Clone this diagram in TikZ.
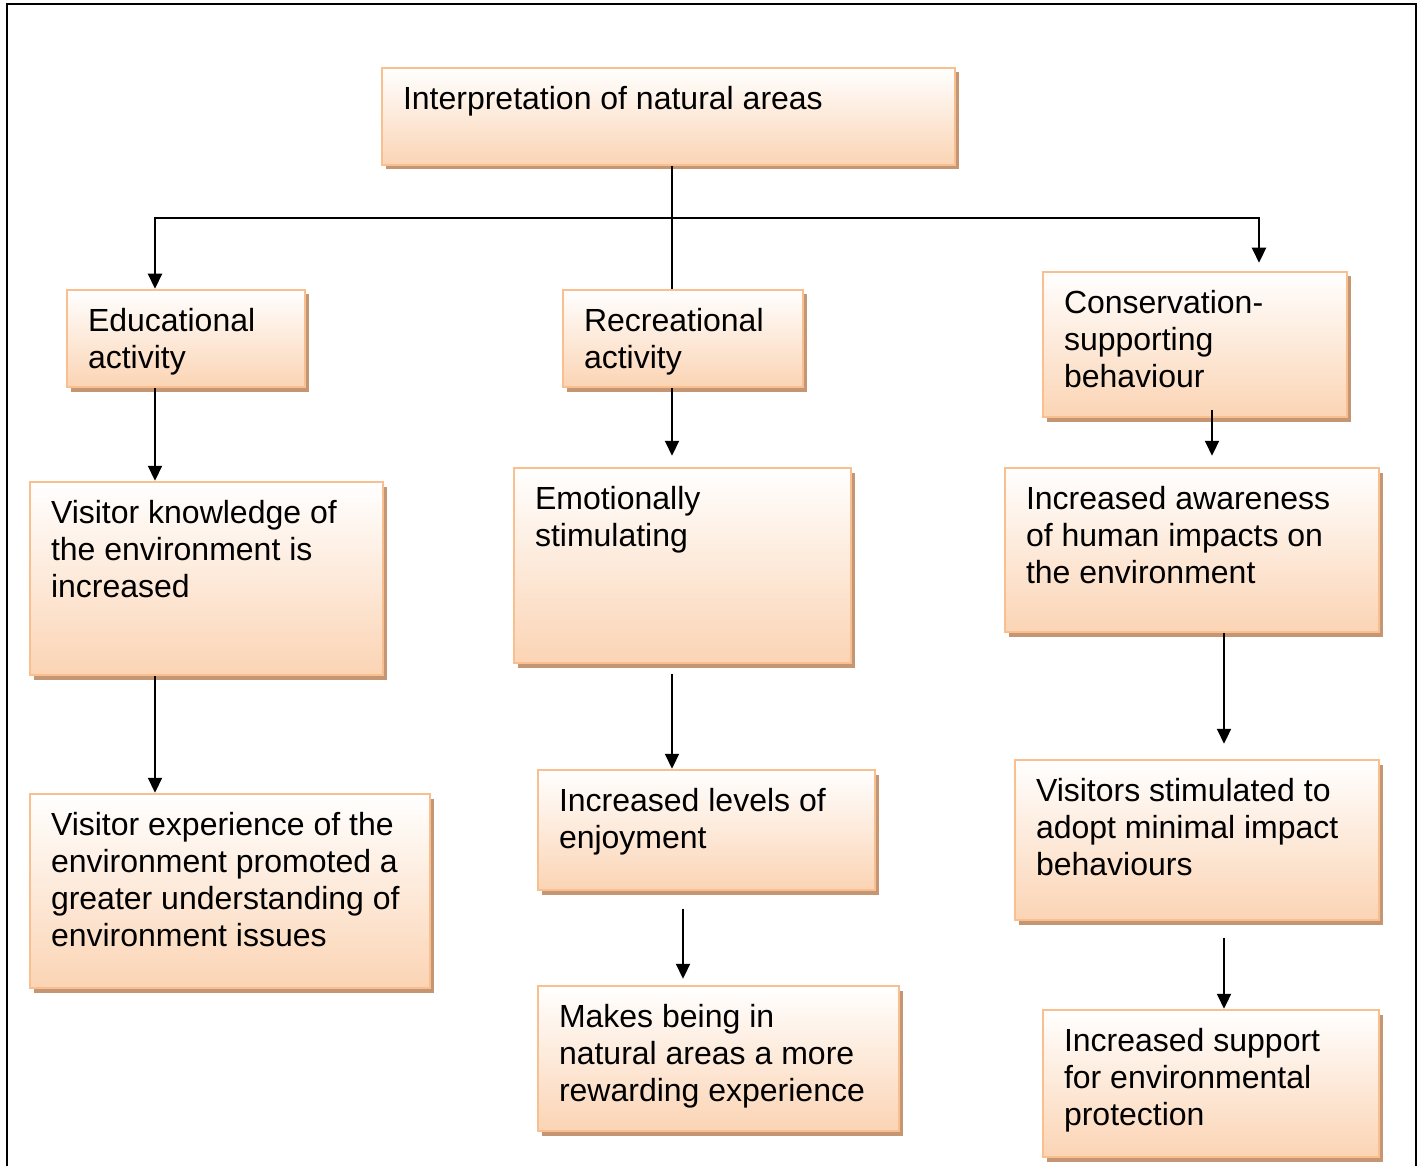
\documentclass[tikz,border=0pt]{standalone}
\usepackage{fontspec}
\setmainfont{Liberation Sans}
\usetikzlibrary{arrows.meta,shadows,calc}
\definecolor{peachbd}{HTML}{FABF8F}
\definecolor{peachfill}{HTML}{FBD4B4}
\definecolor{shadowc}{RGB}{196,150,115}
\tikzset{
  box/.style={rectangle, draw=peachbd, line width=2.5pt, top color=white, bottom color=peachfill,
    inner xsep=0pt, inner ysep=18pt, font=\fontsize{32pt}{37pt}\selectfont,
    drop shadow={shadow xshift=3.5pt, shadow yshift=-4.5pt, fill=shadowc, opacity=1}},
  conn/.style={line width=2.2pt, black},
  tip/.tip={Triangle[length=15pt,width=14pt]},
  arr/.style={conn, -tip},
  frameline/.style={line width=2.8pt, black}
}
\newcommand\bx[6]{\node[box, minimum width={#4-#2}, minimum height={#5-#3}] (#1) at ({(#2+#4)/2},{(#3+#5)/2})
  {\parbox[c][\dimexpr#5pt-#3pt-36pt\relax][t]{\dimexpr#4pt-#2pt\relax}{\raggedright\leftskip=21pt\relax #6}};}
\begin{document}
\begin{tikzpicture}[x=1pt,y=-1pt]
\useasboundingbox (0,0) rectangle (1424,1166);
\fill[white] (0,0) rectangle (1424,1166);
\draw[frameline] (7,1170) -- (7,4) -- (1416,4) -- (1416,1170);

\bx{top}{382}{68}{955}{165}{Interpretation of natural areas}
\bx{edu}{67}{290}{305}{387}{Educational\\activity}
\bx{rec}{563}{290}{803}{387}{Recreational\\activity}
\bx{cons}{1043}{272}{1347}{417}{Conservation-\\supporting\\behaviour}
\bx{vk}{30}{482}{383}{675}{Visitor knowledge of\\the environment is\\increased}
\bx{emo}{514}{468}{851}{663}{Emotionally\\stimulating}
\bx{aware}{1005}{468}{1379}{632}{Increased awareness\\of human impacts on\\the environment}
\bx{ve}{30}{794}{430}{988}{Visitor experience of the\\environment promoted a\\greater understanding of\\environment issues}
\bx{lev}{538}{770}{875}{890}{Increased levels of\\enjoyment}
\bx{stim}{1015}{760}{1379}{920}{Visitors stimulated to\\adopt minimal impact\\behaviours}
\bx{makes}{538}{986}{899}{1131}{Makes being in\\natural areas a more\\rewarding experience}
\bx{sup}{1043}{1010}{1379}{1157}{Increased support\\for environmental\\protection}

\coordinate (j) at (672,218);
\coordinate (xL) at (155,218);
\coordinate (xR) at (1259,218);
\coordinate (xC) at (1212,0);
\coordinate (xD) at (1224,0);
\coordinate (xM) at (683,0);

\draw[conn] (top.south -| j) -- (rec.north -| j);
\draw[conn, tip-tip]
  (edu.north -| xL) -- (xL) -- (xR) -- ($(cons.north -| xR)+(0,-8)$);
\draw[arr] (edu.south -| xL) -- (vk.north -| xL);
\draw[arr] (rec.south -| j) -- ($(emo.north -| j)+(0,-11)$);
\draw[arr] ($(cons.south -| xC)+(0,-8)$) -- ($(aware.north -| xC)+(0,-11)$);
\draw[arr] (vk.south -| xL) -- (ve.north -| xL);
\draw[arr] ($(emo.south -| j)+(0,10)$) -- (lev.north -| j);
\draw[arr] (aware.south -| xD) -- ($(stim.north -| xD)+(0,-15)$);
\draw[arr] ($(lev.south -| xM)+(0,18)$) -- ($(makes.north -| xM)+(0,-6)$);
\draw[arr] ($(stim.south -| xD)+(0,17)$) -- (sup.north -| xD);
\end{tikzpicture}
\end{document}
